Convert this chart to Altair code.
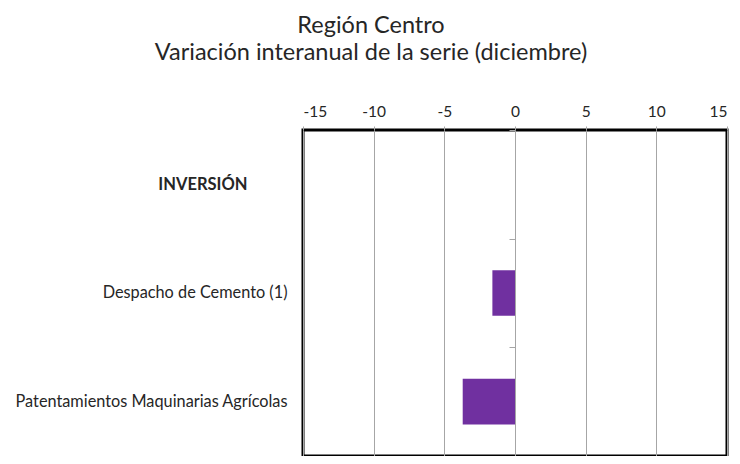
import altair as alt
import pandas as pd

categories = ["INVERSIÓN", "Despacho de Cemento (1)", "Patentamientos Maquinarias Agrícolas"]
values = [None, -1.6, -3.7]
x_ticks = [-15, -10, -5, 0, 5, 10, 15]
title_lines = ["Región Centro", "Variación interanual de la serie (diciembre)"]
header = "INVERSIÓN"

df = pd.DataFrame({"cat": categories, "val": values})

FONT = "Lato"
W, H = 424, 326

yscale = alt.Scale(domain=categories, paddingInner=0.58, paddingOuter=0.29)
yscale_flat = alt.Scale(domain=categories, paddingInner=0, paddingOuter=0)
xscale = alt.Scale(domain=[-15, 15], nice=False)

bars = alt.Chart(df).transform_filter("isValid(datum.val)").mark_bar(color="#7030A0").encode(
    x=alt.X("val:Q", scale=xscale,
            axis=alt.Axis(orient="top", values=x_ticks, title=None, grid=True,
                          gridColor="#a6a6a6", gridWidth=1, domain=False,
                          tickColor="#a6a6a6", tickSize=4, labelFontSize=15.5,
                          labelPadding=7, labelColor="#262626", labelFont=FONT,
                          labelExpr="toString(datum.value)")),
    y=alt.Y("cat:N", scale=yscale, sort=categories,
            axis=alt.Axis(orient="left", title=None, ticks=False, domain=False,
                          labelFont=FONT, labelFontSize=16.3, labelPadding=16,
                          labelColor="#262626", labelLimit=400,
                          labelExpr=f"datum.value == '{header}' ? '' : datum.value")),
)

header_axis = alt.Chart(df).mark_point(opacity=0).encode(
    y=alt.Y("cat:N", scale=yscale, sort=categories,
            axis=alt.Axis(orient="left", title=None, ticks=False, domain=False,
                          labelFont=FONT, labelFontSize=16.5, labelFontWeight="bold",
                          labelPadding=56, labelColor="#262626", labelLimit=400,
                          labelExpr=f"datum.value == '{header}' ? datum.value : ''")),
)

zero_ticks = alt.Chart(df).mark_point(opacity=0).encode(
    y=alt.Y("cat:N", scale=yscale_flat, sort=categories,
            axis=alt.Axis(orient="left", offset=-(W / 2), title=None, labels=False,
                          ticks=True, tickBand="extent", tickSize=6, tickColor="#a6a6a6",
                          domain=False, grid=False)),
)

chart = alt.layer(bars, header_axis, zero_ticks).resolve_scale(y="independent").resolve_axis(y="independent").properties(
    width=W, height=H,
    autosize=alt.AutoSizeParams(type="none"),
    padding={"left": 295, "top": 122, "right": 5, "bottom": 0},
    title=alt.TitleParams(text=title_lines, anchor="middle", frame="bounds",
                          font=FONT, fontSize=23.5, fontWeight="normal",
                          color="#262626", offset=40, lineHeight=27),
).configure_view(stroke="black", strokeWidth=3)

chart.save("out.html", embed_options={"renderer": "svg", "actions": False})
